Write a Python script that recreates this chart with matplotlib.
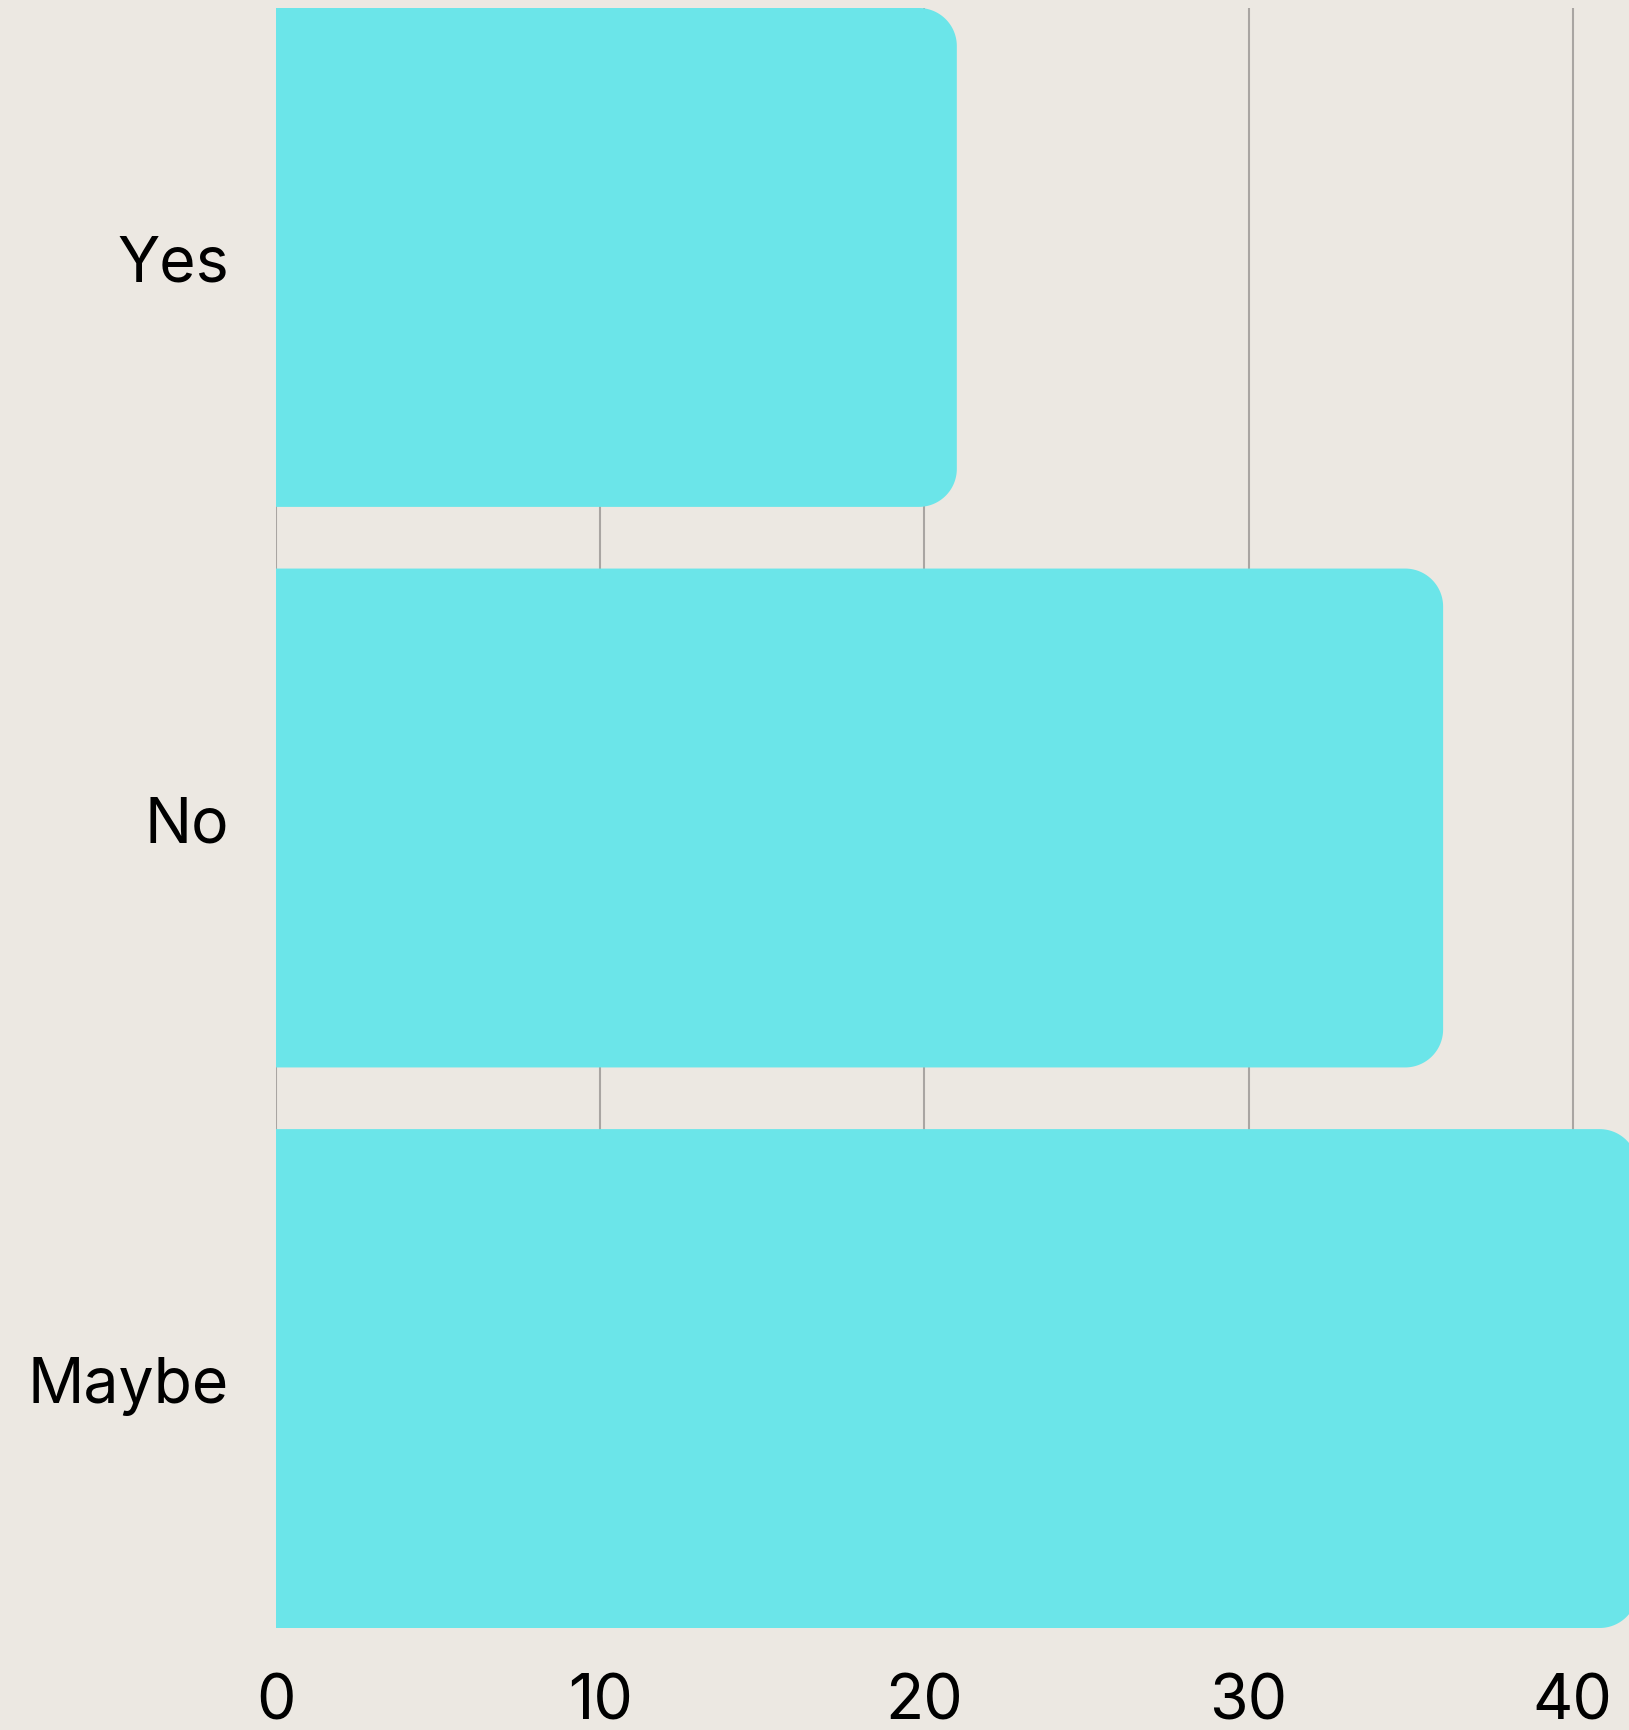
import matplotlib
matplotlib.use("Agg")
import numpy as np
import matplotlib.pyplot as plt
from matplotlib.patches import Polygon

categories = ["Yes", "No", "Maybe"]
values = [21, 36, 42]
xticks = [0, 10, 20, 30, 40]

bg = "#ECE8E2"
bar_color = "#6BE5E9"
grid_color = "#A9A5A2"

W, H = 1629, 1731
fig = plt.figure(figsize=(W / 100, H / 100), dpi=100, facecolor=bg)
ax = fig.add_axes([276 / W, 1 - 1629 / H, 1 - 276 / W, (1629 - 9) / H])
ax.set_facecolor(bg)

bar_h = 0.89
xmax = (W - 276) / 32.42
ax.set_xlim(0, xmax)
ax.set_ylim(len(categories) - 1 + bar_h / 2, -bar_h / 2)

# corner radius in pixels -> data units
px_x = 32.42
px_y = (1629 - 9) / (len(categories) - 1 + bar_h)
r_px = 38
rx = r_px / px_x
ry = r_px / px_y


def right_rounded_bar(y_center, length):
    y0, y1 = y_center - bar_h / 2, y_center + bar_h / 2
    t = np.linspace(0, np.pi / 2, 30)
    # top-right corner (y0 side), bottom-right corner (y1 side)
    c1 = np.column_stack([length - rx + rx * np.sin(t), y0 + ry - ry * np.cos(t)])
    c2 = np.column_stack([length - rx + rx * np.cos(t), y1 - ry + ry * np.sin(t)])
    pts = np.vstack([[[0, y0]], c1, c2, [[0, y1]]])
    return Polygon(pts, closed=True, facecolor=bar_color, edgecolor="none", zorder=2)


for i, v in enumerate(values):
    ax.add_patch(right_rounded_bar(i, v))

for x in xticks:
    ax.axvline(x, color=grid_color, lw=1.5, zorder=1)

for s in ax.spines.values():
    s.set_visible(False)

ax.set_yticks(range(len(categories)))
ax.set_yticklabels(categories)
ax.set_xticks(xticks)
ax.tick_params(length=0, labelsize=45, colors="black")
ax.tick_params(axis="y", pad=34)
ax.tick_params(axis="x", pad=32)
for lab in ax.get_xticklabels() + ax.get_yticklabels():
    lab.set_fontfamily(["Inter", "DejaVu Sans"])

fig.savefig("out.png", dpi=100, facecolor=bg)
